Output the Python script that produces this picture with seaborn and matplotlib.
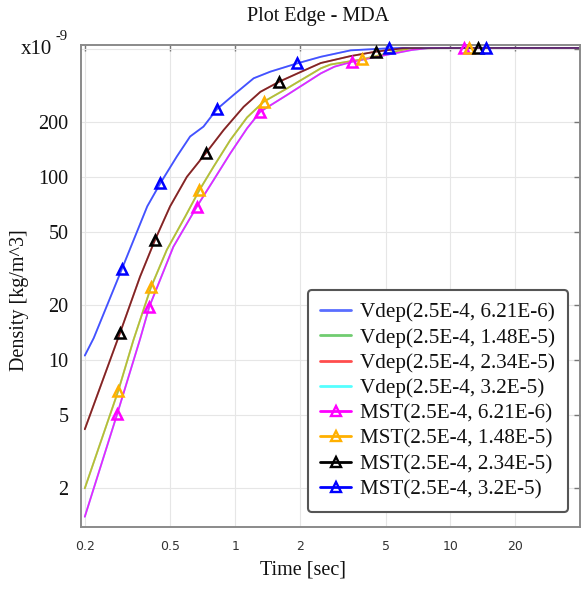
import numpy as np
import matplotlib
matplotlib.use("Agg")
import matplotlib.pyplot as plt
from matplotlib.lines import Line2D
from matplotlib.ticker import NullLocator
import seaborn as sns

# ---- Vdep model curves: time [s] and density [1e-9 kg/m^3] ----
vdep_621_time = [0.2, 0.22, 0.297, 0.39, 0.448, 0.535, 0.617, 0.712, 0.822, 0.983,
                 1.218, 1.457, 1.94, 2.5, 3.44, 5.19, 6.0, 14.6, 40.0]
vdep_621_dens = [10.6, 13.2, 31.3, 69, 92, 129, 166, 188, 234, 280,
                 345, 375, 416, 452, 490, 503, 505, 505, 505]

vdep_148_time = [0.2, 0.286, 0.336, 0.406, 0.481, 0.585, 0.682, 0.793, 0.949, 1.135,
                 1.356, 1.743, 2.5, 2.77, 3.9, 5.1, 6.5, 12.2, 40.0]
vdep_148_dens = [2.0, 6.8, 12.8, 25, 40, 60.6, 84.8, 113.6, 159, 211,
                 257, 304, 391, 410, 438, 472, 503, 505, 505]

vdep_234_time = [0.2, 0.291, 0.361, 0.424, 0.498, 0.596, 0.733, 0.883, 1.094, 1.309,
                 1.605, 2.0, 2.5, 3.44, 4.5, 6.0, 13.4, 40.0]
vdep_234_dens = [4.2, 14.0, 28.5, 45.3, 69, 100, 135.5, 180, 241, 291,
                 331, 372, 418, 456, 482, 503, 505, 505]

vdep_320_time = [0.2, 0.283, 0.361, 0.399, 0.516, 0.663, 0.793, 0.949, 1.135, 1.309,
                 1.743, 2.5, 2.89, 3.5, 5.0, 6.6, 8.0, 11.57, 40.0]
vdep_320_dens = [1.4, 5.1, 13.0, 19.6, 41.6, 68.8, 96, 134.5, 184, 227,
                 280, 367, 399, 425, 462, 492, 505, 505, 505]

# ---- MST model curves and the samples shown with triangles ----
mst_621_time = [0.2, 0.283, 0.361, 0.399, 0.516, 0.663, 0.793, 0.949, 1.135, 1.309,
                1.743, 2.5, 2.89, 3.5, 5.0, 6.6, 8.0, 11.57, 40.0]
mst_621_dens = [1.4, 5.1, 13.0, 19.6, 41.6, 68.8, 96, 134.5, 184, 227,
                280, 367, 399, 425, 462, 492, 505, 505, 505]
mst_621_marks = [1, 3, 5, 9, 13, 17]

mst_148_time = [0.2, 0.286, 0.336, 0.406, 0.481, 0.585, 0.682, 0.793, 0.949, 1.135,
                1.356, 1.743, 2.5, 2.77, 3.9, 5.1, 6.5, 12.2, 40.0]
mst_148_dens = [2.0, 6.8, 12.8, 25, 40, 60.6, 84.8, 113.6, 159, 211,
                257, 304, 391, 410, 438, 472, 503, 505, 505]
mst_148_marks = [1, 3, 6, 10, 14, 17]

mst_234_time = [0.2, 0.291, 0.361, 0.424, 0.498, 0.596, 0.733, 0.883, 1.094, 1.309,
                1.605, 2.0, 2.5, 3.44, 4.5, 6.0, 13.4, 40.0]
mst_234_dens = [4.2, 14.0, 28.5, 45.3, 69, 100, 135.5, 180, 241, 291,
                331, 372, 418, 456, 482, 503, 505, 505]
mst_234_marks = [1, 3, 6, 10, 14, 16]

mst_320_time = [0.2, 0.22, 0.297, 0.39, 0.448, 0.535, 0.617, 0.712, 0.822, 0.983,
                1.218, 1.457, 1.94, 2.5, 3.44, 5.19, 6.0, 14.6, 40.0]
mst_320_dens = [10.6, 13.2, 31.3, 69, 92, 129, 166, 188, 234, 280,
                345, 375, 416, 452, 490, 503, 505, 505, 505]
mst_320_marks = [2, 4, 8, 12, 15, 17]

x_ticks = [0.2, 0.5, 1, 2, 5, 10, 20]
x_tick_labels = ["0.2", "0.5", "1", "2", "5", "10", "20"]
y_ticks = [2, 5, 10, 20, 50, 100, 200, 500]
y_tick_labels = ["2", "5", "10", "20", "50", "100", "200", ""]

vdep_series = [
    ("Vdep(2.5E-4, 6.21E-6)", vdep_621_time, vdep_621_dens, "#5a6eff"),
    ("Vdep(2.5E-4, 1.48E-5)", vdep_148_time, vdep_148_dens, "#70cc70"),
    ("Vdep(2.5E-4, 2.34E-5)", vdep_234_time, vdep_234_dens, "#ff4d4d"),
    ("Vdep(2.5E-4, 3.2E-5)", vdep_320_time, vdep_320_dens, "#55ffff"),
]
mst_series = [
    ("MST(2.5E-4, 6.21E-6)", mst_621_time, mst_621_dens, mst_621_marks, "#ff00ff", 0.85),
    ("MST(2.5E-4, 1.48E-5)", mst_148_time, mst_148_dens, mst_148_marks, "#ffb000", 0.5),
    ("MST(2.5E-4, 2.34E-5)", mst_234_time, mst_234_dens, mst_234_marks, "#000000", 0.5),
    ("MST(2.5E-4, 3.2E-5)", mst_320_time, mst_320_dens, mst_320_marks, "#0000ff", 0.25),
]

sns.set_theme(style="whitegrid")
plt.rcParams["font.family"] = ["Liberation Serif", "DejaVu Serif"]

fig = plt.figure(figsize=(5.82, 5.89), dpi=100)
ax = fig.add_axes([81 / 582, 62 / 589, 499 / 582, 482 / 589])
ax.set_facecolor("white")
ax.set_xscale("log")
ax.set_yscale("log")

for name, t, d, col in vdep_series:
    sns.lineplot(x=t, y=d, ax=ax, color=col, linewidth=1.3,
                 estimator=None, sort=False, legend=False)

for name, t, d, marks, col, a in mst_series:
    sns.lineplot(x=t, y=d, ax=ax, color=col, linewidth=1.3, alpha=a,
                 estimator=None, sort=False, legend=False)
    ax.plot(np.asarray(t)[marks], np.asarray(d)[marks], linestyle="none",
            marker="^", markersize=7.5, markerfacecolor="none",
            markeredgecolor=col, markeredgewidth=1.8, clip_on=False, zorder=5)

ax.set_xlim(0.192, 40)
ax.set_ylim(1.23, 524)
ax.xaxis.set_minor_locator(NullLocator())
ax.yaxis.set_minor_locator(NullLocator())
ax.set_xticks(x_ticks)
ax.set_xticklabels(x_tick_labels)
ax.set_yticks(y_ticks)
ax.set_yticklabels(y_tick_labels)

ax.grid(True, which="major", color="#e6e6e6", linewidth=0.8)
for sp in ax.spines.values():
    sp.set_color("#8a8a8a")
    sp.set_linewidth(1.4)

ax.tick_params(axis="both", which="major", direction="in", length=4, width=1,
               color="#777777", top=True, right=True)
ax.tick_params(axis="x", pad=9)
ax.tick_params(axis="y", pad=9)
for lbl in ax.get_xticklabels():
    lbl.set_fontfamily("DejaVu Sans")
    lbl.set_fontsize(9)
    lbl.set_color("#333333")
for lbl in ax.get_yticklabels():
    lbl.set_fontsize(14.5)
    lbl.set_color("#111111")

ax.set_xlabel("Time [sec]", fontsize=14.5, color="#111111")
ax.xaxis.set_label_coords((303 - 81) / 499, -(561 - 527) / 482)
ax.set_ylabel("Density [kg/m^3]", fontsize=14.5, color="#111111")
ax.yaxis.set_label_coords((29 - 81) / 499, (527 - 300) / 482)

fig.text(318 / 582, 1 - 16 / 589, "Plot Edge - MDA", ha="center", va="center",
         fontsize=14.5, color="#111111")
fig.text(21 / 582, 1 - 50 / 589, "x10", ha="left", va="center", fontsize=15,
         color="#111111")
fig.text(55 / 582, 1 - 37 / 589, "-9", ha="left", va="center", fontsize=10.5,
         color="#111111")

handles = []
labels = []
for name, t, d, col in vdep_series:
    handles.append(Line2D([], [], color=col, linewidth=2))
    labels.append(name)
for name, t, d, marks, col, a in mst_series:
    handles.append(Line2D([], [], color=col, linewidth=2, marker="^", markersize=7,
                          markerfacecolor="none", markeredgecolor=col,
                          markeredgewidth=1.7))
    labels.append(name)

leg = ax.legend(handles, labels, loc="lower right",
                bbox_to_anchor=((568 - 81) / 499, (527 - 512) / 482),
                borderaxespad=0, fontsize=15.2, handlelength=1.45,
                handletextpad=0.45, labelspacing=0.26, borderpad=0.6,
                frameon=True, fancybox=True, framealpha=1)
leg.get_frame().set_edgecolor("#555555")
leg.get_frame().set_linewidth(1.5)
for txt in leg.get_texts():
    txt.set_color("#111111")

fig.savefig("out.png", dpi=100)
